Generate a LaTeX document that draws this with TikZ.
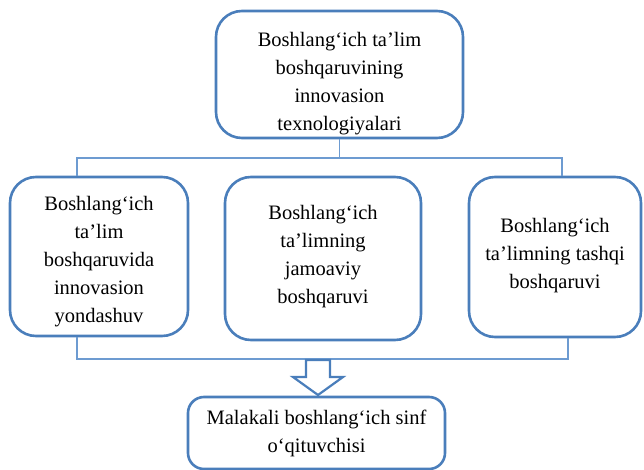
\documentclass[tikz,border=0pt]{standalone}
\usepackage{fontspec}
\setmainfont{Liberation Serif}
\definecolor{boxblue}{HTML}{4A7EBB}
\definecolor{lineblue}{HTML}{6D9BD1}
\begin{document}
\begin{tikzpicture}[x=1pt,y=-1pt,
    box/.style={draw=boxblue,line width=2.6pt,rounded corners=26pt,inner sep=0pt},
    txt/.style={align=center,inner sep=0pt,font=\fontsize{20.5}{28}\selectfont},
    link/.style={draw=lineblue,line width=1.6pt}]
                \useasboundingbox (0,0) rectangle (644,470);
                \node[box,minimum width=247pt,minimum height=127pt] (top) at (339.5,74.5) {};
                \node[box,minimum width=178pt,minimum height=159pt] (left) at (99,256.5) {};
                \node[box,minimum width=196pt,minimum height=163pt] (mid) at (323,258.5) {};
                \node[box,minimum width=172pt,minimum height=160pt] (right) at (555,257) {};
                \node[box,rounded corners=16pt,minimum width=257pt,minimum height=72pt] (bot) at (316.5,433) {};
                \node[txt] (topT) at ([yshift=-9pt]top.center) {Boshlang‘ich ta’lim\\boshqaruvining\\innovasion\\texnologiyalari};
                \node[txt] (leftT) at ([yshift=-5pt]left.center) {Boshlang‘ich\\ta’lim\\boshqaruvida\\innovasion\\yondashuv};
                \node[txt] (midT) at ([yshift=2pt]mid.center) {Boshlang‘ich\\ta’limning\\jamoaviy\\boshqaruvi};
                \node[txt] (rightT) at ([yshift=1pt]right.center) {Boshlang‘ich\\ta’limning tashqi\\boshqaruvi};
                \node[txt] (botT) at (bot.center) {Malakali boshlang‘ich sinf\\o‘qituvchisi};
                \coordinate (upL) at (77,158);
                \coordinate (upR) at (562,158);
                \coordinate (dnL) at (77,359);
                \coordinate (dnR) at (568,359);
                \draw[link] (top.south) -- (top.south |- upL);
                \draw[link] (upL |- left.north) -- (upL) -- (upR) -- (upR |- right.north);
                \draw[link] (dnL |- left.south) -- (dnL) -- (dnR) -- (dnR |- right.south);
                \coordinate (arr) at (318,360);
                \draw[draw=boxblue,line width=2.2pt,fill=white,line join=miter]
                    (arr) ++(-12,0) -- ++(0,17) -- ++(-13,0) -- ++(25,18) -- ++(25,-18) -- ++(-13,0) -- ++(0,-17) -- cycle;
            \end{tikzpicture}
\end{document}
